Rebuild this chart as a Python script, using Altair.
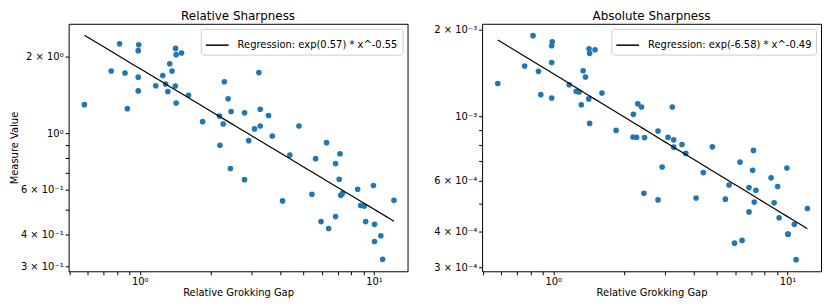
import altair as alt
import pandas as pd

# Relative grokking gap (shared x of both panels)
gap = [0.58, 0.755, 0.82, 0.865, 0.885, 0.985, 0.985, 0.99, 0.985, 1.17,
       1.254, 1.29, 1.318, 1.342, 1.373, 1.418, 1.422, 1.43, 1.43, 1.508,
       1.614, 1.855, 2.191, 2.199, 2.27, 2.296, 2.383, 2.437, 2.454,
       2.80, 2.80, 2.917, 3.09, 3.224, 3.267, 3.267, 3.546, 3.68, 4.07, 4.37,
       4.78, 5.43, 5.63, 5.94, 6.27, 6.40, 6.85, 6.85, 7.10, 7.155, 7.21, 7.33,
       8.51, 8.77, 9.08, 9.21, 9.94, 10.05, 10.05, 10.69, 10.88, 12.16]

relative_sharpness = [1.298, 1.761, 2.252, 1.730, 1.252, 1.665, 1.470, 2.233, 2.117, 1.541,
                      1.690, 1.564, 1.461, 1.880, 1.761, 1.537, 2.161, 2.042, 1.317, 2.073,
                      1.414, 1.113, 1.170, 0.899, 1.090, 1.597, 1.369, 0.728, 1.220,
                      1.205, 0.658, 0.937, 1.042, 1.735, 1.245, 1.070, 1.177, 0.977, 0.543, 0.822,
                      1.070, 0.576, 0.796, 0.450, 0.920, 0.423, 0.471, 0.761, 0.660, 0.832, 0.571, 0.581,
                      0.603, 0.521, 0.518, 0.450, 0.624, 0.439, 0.376, 0.396, 0.320, 0.546]

absolute_sharpness_e3 = [1.302, 1.495, 1.905, 1.434, 1.191, 1.539, 1.160, 1.814, 1.758, 1.288,
                         1.223, 1.216, 1.098, 1.441, 1.371, 1.151, 1.717, 1.655, 0.947, 1.703,
                         1.207, 0.896, 0.850, 1.018, 0.848, 1.107, 1.079, 0.543, 0.846,
                         0.892, 0.515, 0.669, 0.848, 1.079, 0.831, 0.784, 0.801, 0.746, 0.523, 0.640,
                         0.786, 0.518, 0.580, 0.365, 0.696, 0.373, 0.468, 0.568, 0.652, 0.764, 0.506, 0.556,
                         0.614, 0.503, 0.573, 0.447, 0.664, 0.392, 0.392, 0.424, 0.320, 0.481]
absolute_sharpness = [v * 1e-3 for v in absolute_sharpness_e3]

panel_titles = ["Relative Sharpness", "Absolute Sharpness"]
legend_labels = ["Regression: exp(0.57) * x^-0.55", "Regression: exp(-6.58) * x^-0.49"]

x_tick_values = [0.5, 0.6, 0.7, 0.8, 0.9, 1, 2, 3, 4, 5, 6, 7, 8, 9, 10]
x_tick_labels = {1: "10⁰", 10: "10¹"}

rel_tick_values = [0.3, 0.4, 0.5, 0.6, 0.7, 0.8, 0.9, 1, 2]
rel_tick_labels = {0.3: "3 × 10⁻¹", 0.4: "4 × 10⁻¹", 0.6: "6 × 10⁻¹", 1: "10⁰", 2: "2 × 10⁰"}

abs_tick_values = [0.0003, 0.0004, 0.0005, 0.0006, 0.0007, 0.0008, 0.0009, 0.001, 0.002]
abs_tick_labels = {0.0003: "3 × 10⁻⁴", 0.0004: "4 × 10⁻⁴", 0.0006: "6 × 10⁻⁴",
                   0.001: "10⁻³", 0.002: "2 × 10⁻³"}

x_domain = [0.497, 13.9]
rel_domain = [0.287, 2.70]
abs_domain = [2.917e-4, 2.094e-3]

FONT = "DejaVu Sans"


def label_expr(mapping):
    expr = "''"
    for k, v in mapping.items():
        expr = f"datum.value == {k} ? '{v}' : ({expr})"
    return expr


def panel(yvals, title, ydomain, ticks, tick_labels, legend_label, ytitle):
    df = pd.DataFrame({"x": gap, "y": yvals})
    base = alt.Chart(df)
    xenc = alt.X("x:Q",
                 scale=alt.Scale(type="log", domain=x_domain, nice=False),
                 axis=alt.Axis(values=x_tick_values, labelExpr=label_expr(x_tick_labels),
                               title="Relative Grokking Gap"))
    yaxis_kwargs = dict(values=ticks, labelExpr=label_expr(tick_labels))
    yaxis_kwargs["title"] = ytitle if ytitle else None
    yenc = alt.Y("y:Q",
                 scale=alt.Scale(type="log", domain=ydomain, nice=False),
                 axis=alt.Axis(**yaxis_kwargs))
    pts = base.mark_circle(size=32, color="#1f77b4", opacity=1).encode(x=xenc, y=yenc)
    line = (base.transform_regression("x", "y", method="pow")
            .transform_calculate(series=f"'{legend_label}'")
            .mark_line(strokeWidth=1.2, clip=True)
            .encode(x="x:Q", y="y:Q",
                    color=alt.Color("series:N", scale=alt.Scale(range=["black"]),
                                    legend=alt.Legend(title=None, orient="top-right", offset=5,
                                                      padding=4, strokeColor="#cccccc",
                                                      fillColor="white", cornerRadius=3,
                                                      symbolType="stroke", symbolSize=520,
                                                      symbolStrokeWidth=1.5, labelOffset=8,
                                                      labelFontSize=10, labelLimit=400,
                                                      labelFont=FONT, labelColor="black"))))
    return alt.layer(pts, line).properties(
        width=341, height=249,
        title=alt.TitleParams(title, fontSize=12, font=FONT, fontWeight="normal",
                              color="black", offset=1))


left = panel(relative_sharpness, panel_titles[0], rel_domain, rel_tick_values,
             rel_tick_labels, legend_labels[0], "Measure Value")
right = panel(absolute_sharpness, panel_titles[1], abs_domain, abs_tick_values,
              abs_tick_labels, legend_labels[1], None)

chart = (alt.hconcat(left, right, spacing=24)
         .resolve_scale(color="independent")
         .resolve_legend(color="independent")
         .properties(padding=0)
         .configure_view(stroke="black", strokeWidth=1)
         .configure_axis(grid=False, domain=False, tickColor="black", tickSize=3.5,
                         labelFont=FONT, titleFont=FONT, labelFontSize=10,
                         titleFontSize=10, labelColor="black", titleColor="black",
                         titleFontWeight="normal", labelPadding=2, titlePadding=1)
         .configure_title(anchor="middle"))

chart.save("out.html", embed_options={"renderer": "svg", "actions": False})
